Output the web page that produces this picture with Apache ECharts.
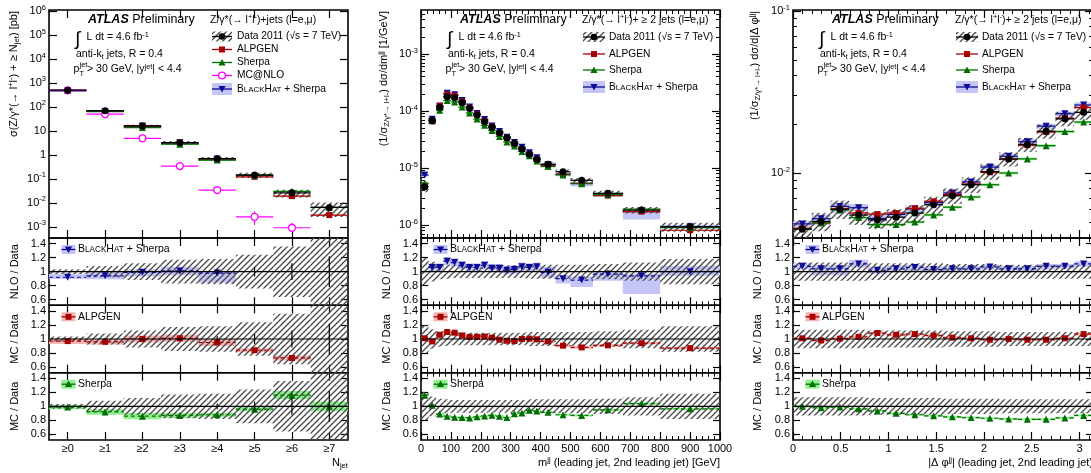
<!DOCTYPE html>
<html>
<head>
<meta charset="utf-8">
<title>Z+jets ATLAS</title>
<script src="https://cdn.jsdelivr.net/npm/echarts@6.0.0/dist/echarts.min.js"></script>
<style>
html, body { margin: 0; padding: 0; background: #fff; }
#chart { width: 1091px; height: 473px; }
</style>
</head>
<body>
<div id="chart"></div>
<script>
var FONT = '"Liberation Sans", Arial, sans-serif';

// ---- left: inclusive jet multiplicity ----
var njetEdges = [-0.5, 0.5, 1.5, 2.5, 3.5, 4.5, 5.5, 6.5, 7.5];
var njetTicks = [0, 1, 2, 3, 4, 5, 6, 7];
var njetLabels = ['≥0', '≥1', '≥2', '≥3', '≥4', '≥5', '≥6', '≥7'];
var njetData = [500, 69, 16, 3.2, 0.69, 0.144, 0.026, 0.0064];
var njetSyst = [0.035, 0.08, 0.12, 0.17, 0.18, 0.24, 0.36, 0.6];
var njetStat = [0.005, 0.01, 0.01, 0.02, 0.04, 0.07, 0.12, 0.22];
var njetAlpgen = [0.97, 0.96, 1.0, 1.01, 0.95, 0.84, 0.73, 0.48];
var njetAlpgenErr = [0.04, 0.04, 0.05, 0.05, 0.05, 0.03, 0.035, 0.03];
var njetSherpa = [0.99, 0.92, 0.86, 0.87, 0.88, 0.96, 1.16, 1.0];
var njetSherpaErr = [0.03, 0.04, 0.045, 0.035, 0.03, 0.03, 0.06, 0.07];
var njetBlackhat = [0.92, 0.94, 0.99, 1.01, 0.98];
var njetBlackhatLo = [0.895, 0.89, 0.93, 0.95, 0.84];
var njetBlackhatHi = [0.97, 1.0, 1.03, 1.07, 1.0];
var njetMcnlo = [490, 50, 4.9, 0.34, 0.034, 0.0026, 0.00091];
var njetMcnloLo = [480, 49, 4.8, 0.33, 0.031, 0.0012, 0.0006];
var njetMcnloHi = [500, 51, 5.0, 0.35, 0.037, 0.0044, 0.0014];

// ---- middle: dijet mass ----
var mjjEdges = [0, 25, 50, 75, 100, 125, 150, 175, 200, 225, 250, 275, 300, 325, 350, 375, 400, 450, 500, 575, 675, 800, 1000];
var mjjTicks = [0, 100, 200, 300, 400, 500, 600, 700, 800, 900, 1000];
var mjjData = [4.7e-6, 6.8e-5, 1.16e-4, 1.78e-4, 1.71e-4, 1.40e-4, 1.11e-4, 8.5e-5, 6.5e-5, 5.2e-5, 4.17e-5, 3.4e-5, 2.71e-5, 2.16e-5, 1.74e-5, 1.42e-5, 1.16e-5, 8.6e-6, 6.1e-6, 3.6e-6, 1.83e-6, 9.3e-7];
var mjjSyst = [0.2, 0.14, 0.11, 0.1, 0.09, 0.09, 0.09, 0.09, 0.09, 0.09, 0.09, 0.09, 0.09, 0.09, 0.1, 0.1, 0.1, 0.1, 0.1, 0.11, 0.13, 0.18];
var mjjAlpgen = [1.01, 0.965, 1.06, 1.10, 1.09, 1.05, 1.03, 1.03, 1.035, 1.02, 0.99, 0.975, 0.97, 1.0, 1.005, 0.995, 0.965, 0.905, 0.88, 0.91, 0.94, 0.87];
var mjjAlpgenErr = [0.02, 0.02, 0.02, 0.02, 0.02, 0.02, 0.02, 0.02, 0.02, 0.02, 0.02, 0.02, 0.02, 0.02, 0.02, 0.02, 0.02, 0.02, 0.02, 0.02, 0.02, 0.02];
var mjjSherpa = [1.16, 1.015, 0.89, 0.86, 0.845, 0.84, 0.835, 0.85, 0.862, 0.872, 0.86, 0.84, 0.895, 0.905, 0.943, 0.933, 0.915, 0.88, 0.87, 0.95, 1.04, 0.965];
var mjjSherpaErr = [0.015, 0.015, 0.015, 0.015, 0.015, 0.015, 0.015, 0.015, 0.015, 0.015, 0.015, 0.015, 0.015, 0.015, 0.015, 0.015, 0.015, 0.015, 0.015, 0.015, 0.015, 0.015];
var mjjBlackhat = [1.6, 1.06, 1.06, 1.15, 1.13, 1.09, 1.06, 1.06, 1.09, 1.05, 1.05, 1.02, 1.03, 1.07, 1.06, 1.07, 0.99, 0.90, 0.88, 0.965, 0.94, 1.0];
var mjjBlackhatLo = [1.5, 1.0, 1.0, 1.09, 1.07, 1.03, 1.0, 1.0, 1.03, 0.99, 0.99, 0.96, 0.97, 1.01, 1.0, 1.01, 0.91, 0.83, 0.78, 0.87, 0.68, 0.94];
var mjjBlackhatHi = [1.7, 1.12, 1.12, 1.21, 1.19, 1.15, 1.12, 1.12, 1.15, 1.11, 1.11, 1.08, 1.09, 1.13, 1.12, 1.13, 1.07, 0.95, 0.93, 0.99, 0.97, 1.08];

// ---- right: dijet azimuthal separation ----
var dphiEdges = [0, 0.196, 0.393, 0.589, 0.785, 0.982, 1.178, 1.374, 1.571, 1.767, 1.963, 2.160, 2.356, 2.553, 2.749, 2.945, 3.1416];
var dphiTicks = [0, 0.5, 1, 1.5, 2, 2.5, 3];
var dphiData = [4.51e-3, 5.02e-3, 5.98e-3, 5.50e-3, 5.14e-3, 5.34e-3, 5.66e-3, 6.37e-3, 7.24e-3, 8.47e-3, 1.02e-2, 1.22e-2, 1.50e-2, 1.81e-2, 2.16e-2, 2.37e-2];
var dphiSyst = [0.13, 0.13, 0.13, 0.13, 0.12, 0.12, 0.12, 0.12, 0.11, 0.11, 0.11, 0.1, 0.1, 0.1, 0.1, 0.1];
var dphiAlpgen = [1.01, 0.98, 1.005, 1.03, 1.085, 1.06, 1.07, 1.05, 1.02, 1.01, 0.99, 1.0, 0.99, 0.99, 1.01, 1.07];
var dphiAlpgenErr = [0.02, 0.02, 0.02, 0.02, 0.02, 0.02, 0.02, 0.02, 0.02, 0.02, 0.02, 0.02, 0.02, 0.02, 0.02, 0.02];
var dphiSherpa = [1.0, 0.98, 0.99, 0.965, 0.935, 0.90, 0.88, 0.865, 0.85, 0.84, 0.83, 0.82, 0.815, 0.815, 0.835, 0.87];
var dphiSherpaErr = [0.015, 0.015, 0.015, 0.015, 0.015, 0.015, 0.015, 0.015, 0.015, 0.015, 0.015, 0.015, 0.015, 0.015, 0.015, 0.015];
var dphiBlackhat = [1.076, 1.04, 1.04, 1.11, 1.02, 1.04, 1.06, 1.03, 1.04, 1.04, 1.067, 1.04, 1.04, 1.076, 1.076, 1.11];
var dphiBlackhatLo = [1.03, 0.95, 0.95, 1.06, 0.97, 0.99, 1.01, 0.99, 1.0, 1.0, 1.02, 1.0, 1.0, 1.03, 1.04, 1.07];
var dphiBlackhatHi = [1.12, 1.1, 1.1, 1.17, 1.07, 1.09, 1.1, 1.07, 1.08, 1.08, 1.1, 1.08, 1.08, 1.11, 1.11, 1.15];

var ratioTicks = [0.6, 0.8, 1, 1.2, 1.4];

var C_ALP = '#a80000', C_ALP_BAND = '#f6b6b6';
var C_SHE = '#006e00', C_SHE_BAND = '#8eef8e';
var C_BH = '#0a0a96', C_BH_BAND = '#c6c6f6';
var C_NLO = '#ff00ff';

// panel frames in pixels
var GRIDX = [[49, 348], [421, 720], [793, 1093]];
var GRIDY = [[10, 238], [238, 305.3], [305.3, 372.7], [372.7, 440]];

function makeHatch() {
  var c = document.createElement('canvas');
  c.width = 6; c.height = 6;
  var g = c.getContext('2d');
  g.strokeStyle = '#474747';
  g.lineWidth = 1.3;
  g.beginPath();
  g.moveTo(0, 6); g.lineTo(6, 0);
  g.moveTo(-1, 1); g.lineTo(1, -1);
  g.moveTo(5, 7); g.lineTo(7, 5);
  g.stroke();
  return c;
}
var hatch = {image: makeHatch(), repeat: 'repeat'};

function minorLog(lo, hi) {
  var out = [];
  for (var e = -8; e <= 6; e++) {
    for (var k = 2; k <= 9; k++) {
      var v = k * Math.pow(10, e);
      if (v > lo && v < hi) out.push(v);
    }
  }
  return out;
}

function powLabel(v) {
  var e = Math.round(Math.log(v) / Math.LN10);
  if (e === 0) return '1';
  if (e === 1) return '10';
  return '10{sup|' + e + '}';
}

var cols = [
  {
    edges: njetEdges, xmin: -0.5, xmax: 7.5, xInterval: null, xTicks: njetTicks, xMinor: false,
    xFmt: function (v) { return njetLabels[Math.round(v)]; },
    ymin: 3.4e-4, ymax: 1.1e6, yTicks: [1e-3, 1e-2, 0.1, 1, 10, 100, 1e3, 1e4, 1e5, 1e6], yMinor: null,
    data: njetData, syst: njetSyst, stat: njetStat,
    alp: njetAlpgen, alpErr: njetAlpgenErr, she: njetSherpa, sheErr: njetSherpaErr,
    bh: njetBlackhat, bhLo: njetBlackhatLo, bhHi: njetBlackhatHi,
    ytitle: 'σ(Z/γ*(→ l{sup|+}l{sup|-}) + ≥ N{sub|jet}) [pb]', ytitleX: 14,
    xtitle: 'N{sub|jet}',
    legTitle: 'Z/γ*(→ l{sup|+}l{sup|-})+jets (l=e,μ)',
    legRows: [36.5, 49.5, 62.5, 75.5, 89], legW: 20, ratioTitleX: 15
  },
  {
    edges: mjjEdges, xmin: 0, xmax: 1000, xInterval: 100, xTicks: mjjTicks, xMinor: true,
    xFmt: function (v) { return String(v); },
    ymin: 5.92e-7, ymax: 5.92e-3, yTicks: [1e-6, 1e-5, 1e-4, 1e-3], yMinor: minorLog(5.92e-7, 5.92e-3),
    data: mjjData, syst: mjjSyst, stat: null,
    alp: mjjAlpgen, alpErr: mjjAlpgenErr, she: mjjSherpa, sheErr: mjjSherpaErr,
    bh: mjjBlackhat, bhLo: mjjBlackhatLo, bhHi: mjjBlackhatHi,
    ytitle: '(1/σ{sub|Z/γ*→ l+l-}) dσ/dm{sup|jj} [1/GeV]', ytitleX: 384,
    xtitle: 'm{sup|jj} (leading jet, 2nd leading jet) [GeV]',
    legTitle: 'Z/γ*(→ l{sup|+}l{sup|-})+ ≥ 2 jets (l=e,μ)',
    legRows: [37, 54, 70, 87], legW: 22, ratioTitleX: 387
  },
  {
    edges: dphiEdges, xmin: 0, xmax: 3.1416, xInterval: 0.5, xTicks: dphiTicks, xMinor: true,
    xFmt: function (v) { return String(v); },
    ymin: 3.97e-3, ymax: 0.1015, yTicks: [1e-2, 1e-1], yMinor: minorLog(4.1e-3, 0.0999),
    data: dphiData, syst: dphiSyst, stat: null,
    alp: dphiAlpgen, alpErr: dphiAlpgenErr, she: dphiSherpa, sheErr: dphiSherpaErr,
    bh: dphiBlackhat, bhLo: dphiBlackhatLo, bhHi: dphiBlackhatHi,
    ytitle: '(1/σ{sub|Z/γ*→ l+l-}) dσ/d|Δ φ{sup|jj}|', ytitleX: 755,
    xtitle: '|Δ φ{sup|jj}| (leading jet, 2nd leading jet)',
    legTitle: 'Z/γ*(→ l{sup|+}l{sup|-})+ ≥ 2 jets (l=e,μ)',
    legRows: [37, 54, 70, 87], legW: 22, ratioTitleX: 758
  }
];

var grids = [], xAxes = [], yAxes = [], series = [], graphics = [], AX = [];
var tickStyle = {color: '#000', width: 1.2};
var noLine = {show: false, onZero: false};

function addGrid(c, r) {
  var col = cols[c];
  var gi = grids.length;
  var gx = GRIDX[c], gy = GRIDY[r];
  grids.push({left: gx[0], top: gy[0], width: gx[1] - gx[0], height: gy[1] - gy[0],
    show: true, borderColor: '#000', borderWidth: 1.6, containLabel: false, outerBoundsMode: 'none'});
  var xi = xAxes.length;
  ['bottom', 'top'].forEach(function (pos, k) {
    xAxes.push({
      type: 'value', gridIndex: gi, position: pos, min: col.xmin, max: col.xmax,
      interval: col.xInterval || undefined,
      axisLine: noLine, splitLine: {show: false},
      axisTick: {show: true, inside: true, length: 8, lineStyle: tickStyle, customValues: col.xTicks},
      minorTick: {show: col.xMinor, splitNumber: 5, length: 4, lineStyle: {color: '#000', width: 1}},
      axisLabel: {show: r === 3 && k === 0, customValues: col.xTicks, formatter: col.xFmt,
        margin: 3, fontSize: 11, color: '#000', fontFamily: FONT}
    });
  });
  var yi = yAxes.length;
  if (r === 0) {
    ['left', 'right'].forEach(function (pos, k) {
      yAxes.push({
        type: 'log', logBase: 10, gridIndex: gi, position: pos, min: col.ymin, max: col.ymax,
        axisLine: noLine, splitLine: {show: false}, minorTick: {show: false},
        axisTick: {show: true, inside: true, length: 8, lineStyle: tickStyle, customValues: col.yTicks},
        axisLabel: {show: k === 0, customValues: col.yTicks, formatter: powLabel, margin: 3,
          fontSize: 11, color: '#000', fontFamily: FONT,
          rich: {sup: {fontSize: 7.5, fontFamily: FONT, color: '#000', padding: [0, 0, 7, 0]}}}
      });
    });
    if (col.yMinor) {
      ['left', 'right'].forEach(function (pos) {
        yAxes.push({
          type: 'log', logBase: 10, gridIndex: gi, position: pos, min: col.ymin, max: col.ymax,
          axisLine: noLine, splitLine: {show: false}, minorTick: {show: false},
          axisTick: {show: true, inside: true, length: 4, lineStyle: {color: '#000', width: 1}, customValues: col.yMinor},
          axisLabel: {show: false}
        });
      });
    }
  } else {
    ['left', 'right'].forEach(function (pos, k) {
      yAxes.push({
        type: 'value', gridIndex: gi, position: pos, min: 0.52, max: 1.48,
        axisLine: noLine, splitLine: {show: false},
        axisTick: {show: true, inside: true, length: 7, lineStyle: tickStyle, customValues: ratioTicks},
        axisLabel: {show: k === 0, customValues: ratioTicks, margin: 3, fontSize: 11, color: '#000', fontFamily: FONT}
      });
    });
  }
  AX.push({x: xi, y: yi});
  return gi;
}

function rects(gi, items, fill, z) {
  series.push({
    type: 'custom', coordinateSystem: 'cartesian2d', xAxisIndex: AX[gi].x, yAxisIndex: AX[gi].y,
    data: items, encode: {x: [0, 1], y: [2, 3]}, z: z, clip: true, silent: true,
    renderItem: function (params, api) {
      var a = api.coord([api.value(0), api.value(3)]);
      var b = api.coord([api.value(1), api.value(2)]);
      return {type: 'rect', shape: {x: a[0], y: a[1], width: b[0] - a[0], height: b[1] - a[1]},
        style: {fill: fill}};
    }
  });
}

function hlines(gi, items, color, width, dash, z) {
  series.push({
    type: 'custom', coordinateSystem: 'cartesian2d', xAxisIndex: AX[gi].x, yAxisIndex: AX[gi].y,
    data: items, encode: {x: [0, 1], y: 2}, z: z, clip: true, silent: true,
    renderItem: function (params, api) {
      var a = api.coord([api.value(0), api.value(2)]);
      var b = api.coord([api.value(1), api.value(2)]);
      return {type: 'line', shape: {x1: a[0], y1: a[1], x2: b[0], y2: b[1]},
        style: {stroke: color, lineWidth: width, lineDash: dash || null}};
    }
  });
}

function vlines(gi, items, color, width, z) {
  series.push({
    type: 'custom', coordinateSystem: 'cartesian2d', xAxisIndex: AX[gi].x, yAxisIndex: AX[gi].y,
    data: items, encode: {x: 0, y: [1, 2]}, z: z, clip: true, silent: true,
    renderItem: function (params, api) {
      var a = api.coord([api.value(0), api.value(1)]);
      var b = api.coord([api.value(0), api.value(2)]);
      return {type: 'line', shape: {x1: a[0], y1: a[1], x2: b[0], y2: b[1]},
        style: {stroke: color, lineWidth: width}};
    }
  });
}

function markers(gi, pts, m, z) {
  series.push({
    type: 'scatter', xAxisIndex: AX[gi].x, yAxisIndex: AX[gi].y, data: pts,
    symbol: m.sym, symbolSize: m.size, symbolRotate: m.rot || 0, clip: true, silent: true, z: z,
    itemStyle: m.empty ? {color: '#fff', borderColor: m.color, borderWidth: 1.3, opacity: 1} : {color: m.color, opacity: 1}
  });
}

function rich(s) {
  return {
    sup: {fontSize: s * 0.7, fontFamily: FONT, fill: '#000', padding: [0, 0, Math.round(s * 0.55), 0]},
    sub: {fontSize: s * 0.7, fontFamily: FONT, fill: '#000', padding: [Math.round(s * 0.45), 0, 0, 0]},
    b: {fontSize: s, fontFamily: FONT, fill: '#000', fontWeight: 'bold', fontStyle: 'italic'},
    sc: {fontSize: s * 0.78, fontFamily: FONT, fill: '#000', padding: [1, 0, 0, 0]}
  };
}

function T(x, y, text, size, extra) {
  var el = {type: 'text', x: x, y: y, z: 100, silent: true,
    style: {text: text, fontSize: size, fontFamily: FONT, fill: '#000', align: 'left', verticalAlign: 'middle', rich: rich(size)}};
  if (extra) {
    for (var k in extra) {
      if (k === 'rotation') el.rotation = extra[k]; else el.style[k] = extra[k];
    }
  }
  graphics.push(el);
}

function G(el) { el.z = 100; el.silent = true; graphics.push(el); }

function legSym(cx, cy, w, h, m) {
  if (m.band) G({type: 'rect', shape: {x: cx - w / 2, y: cy - h / 2, width: w, height: h}, style: {fill: m.band}});
  G({type: 'line', shape: {x1: cx - w / 2, y1: cy, x2: cx + w / 2, y2: cy}, style: {stroke: m.color, lineWidth: 1.3}});
  var s = 3.6;
  if (m.key === 'data') G({type: 'circle', shape: {cx: cx, cy: cy, r: 3.3}, style: {fill: '#000'}});
  if (m.key === 'alp') G({type: 'rect', shape: {x: cx - 3, y: cy - 3, width: 6, height: 6}, style: {fill: m.color}});
  if (m.key === 'she') G({type: 'polygon', shape: {points: [[cx, cy - s], [cx + s, cy + s * 0.8], [cx - s, cy + s * 0.8]]}, style: {fill: m.color}});
  if (m.key === 'bh') G({type: 'polygon', shape: {points: [[cx, cy + s], [cx + s, cy - s * 0.8], [cx - s, cy - s * 0.8]]}, style: {fill: m.color}});
  if (m.key === 'nlo') G({type: 'circle', shape: {cx: cx, cy: cy, r: 3.4}, style: {fill: '#fff', stroke: m.color, lineWidth: 1.3}});
}

var BH = {key: 'bh', color: C_BH, band: C_BH_BAND, sym: 'triangle', rot: 180, size: 7, name: 'B{sc|LACK}H{sc|AT} + Sherpa'};
var ALP = {key: 'alp', color: C_ALP, band: C_ALP_BAND, sym: 'rect', rot: 0, size: 6, name: 'ALPGEN'};
var SHE = {key: 'she', color: C_SHE, band: C_SHE_BAND, sym: 'triangle', rot: 0, size: 7, name: 'Sherpa'};
var NLO = {key: 'nlo', color: C_NLO, band: null, sym: 'circle', rot: 0, size: 7, empty: true, name: 'MC@NLO'};
var DAT = {key: 'data', color: '#000', band: hatch, sym: 'circle', size: 7, name: 'Data 2011 (√s = 7 TeV)'};

cols.forEach(function (col, c) {
  var gm = addGrid(c, 0);
  var gr = [addGrid(c, 1), addGrid(c, 2), addGrid(c, 3)];
  var L = GRIDX[c][0], R = GRIDX[c][1];
  var n = col.data.length, ctr = [];
  for (var i = 0; i < n; i++) ctr.push((col.edges[i] + col.edges[i + 1]) / 2);

  var models = [
    {m: BH, r: col.bh, lo: col.bhLo, hi: col.bhHi},
    {m: ALP, r: col.alp, err: col.alpErr},
    {m: SHE, r: col.she, err: col.sheErr}
  ];

  // MC predictions: main panel and their ratio panel
  models.forEach(function (md, k) {
    var bM = [], lM = [], pM = [], bR = [], lR = [], pR = [];
    for (var i = 0; i < md.r.length; i++) {
      var lo = md.lo ? md.lo[i] : md.r[i] - md.err[i];
      var hi = md.hi ? md.hi[i] : md.r[i] + md.err[i];
      var d = col.data[i], e0 = col.edges[i], e1 = col.edges[i + 1];
      bM.push([e0, e1, d * lo, d * hi]);
      lM.push([e0, e1, d * md.r[i]]);
      pM.push([ctr[i], d * md.r[i]]);
      bR.push([e0, e1, lo, hi]);
      lR.push([e0, e1, md.r[i]]);
      pR.push([ctr[i], md.r[i]]);
    }
    rects(gm, bM, md.m.band, 1);
    hlines(gm, lM, md.m.color, 1.2, null, 3);
    markers(gm, pM, md.m, 4);
    var g = gr[k];
    rects(g, bR, md.m.band, 1);
    hlines(g, lR, md.m.color, 1.2, [4, 3], 3);
    markers(g, pR, md.m, 4);
  });

  // data
  var dBox = [], dLine = [], dPts = [], dErr = [], rBox = [], rErr = [];
  for (var j = 0; j < n; j++) {
    var d = col.data[j], s = col.syst[j], a = col.edges[j], b = col.edges[j + 1];
    dBox.push([a, b, d * (1 - s), d * (1 + s)]);
    dLine.push([a, b, d]);
    dPts.push([ctr[j], d]);
    rBox.push([a, b, 1 - s, 1 + s]);
    if (col.stat) {
      dErr.push([ctr[j], d * (1 - col.stat[j]), d * (1 + col.stat[j])]);
      rErr.push([ctr[j], 1 - col.stat[j], 1 + col.stat[j]]);
    }
  }
  rects(gm, dBox, hatch, 2);
  hlines(gm, dLine, '#000', 1.3, null, 5);
  if (dErr.length) vlines(gm, dErr, '#000', 1.2, 5);
  markers(gm, dPts, DAT, 6);
  gr.forEach(function (g) {
    rects(g, rBox, hatch, 2);
    hlines(g, [[col.xmin, col.xmax, 1]], '#000', 1.2, null, 5);
    if (rErr.length) vlines(g, rErr, '#000', 1.2, 5);
  });

  // MC@NLO only on the multiplicity plot
  if (c === 0) {
    var nl = [], np = [], ne = [];
    for (var q = 0; q < njetMcnlo.length; q++) {
      nl.push([njetEdges[q], njetEdges[q + 1], njetMcnlo[q]]);
      np.push([njetTicks[q], njetMcnlo[q]]);
      ne.push([njetTicks[q], njetMcnloLo[q], njetMcnloHi[q]]);
    }
    hlines(gm, nl, C_NLO, 1.2, null, 3);
    vlines(gm, ne, C_NLO, 1.2, 3);
    markers(gm, np, NLO, 4);
  }

  // texts: ATLAS block
  T(L + 39, 20, '{b|ATLAS} Preliminary', 12.5);
  T(L + 26, 40, '∫', 19);
  T(L + 37.5, 37.5, 'L dt = 4.6 fb{sup|-1}', 10.5);
  T(L + 27, 54, 'anti-k{sub|t} jets, R = 0.4', 10.5);
  T(L + 24.5, 69.5, 'p', 10.5);
  T(L + 30.5, 64.5, 'jet', 7.5);
  T(L + 30.5, 73.5, 'T', 7.5);
  T(L + 38, 69.5, '> 30 GeV, |y{sup|jet}| < 4.4', 10.5);

  // main legend
  T(R - 138, 20, col.legTitle, 10.5);
  var entries = c === 0 ? [DAT, ALP, SHE, NLO, BH] : [DAT, ALP, SHE, BH];
  entries.forEach(function (m, k) {
    var y = col.legRows[k];
    var w = col.legW;
    var mm = m;
    if (m.key === 'alp' || m.key === 'she') mm = {key: m.key, color: m.color, band: null};
    legSym(R - 126, y, w, m.key === 'bh' ? 12 : 10, mm);
    T(R - 111, y, m.name, 10.2);
  });

  // ratio legends + titles
  [BH, ALP, SHE].forEach(function (m, k) {
    var top = GRIDY[k + 1][0], bot = GRIDY[k + 1][1];
    legSym(L + 19.5, top + 11.5, 14, 9, m);
    T(L + 29, top + 11.5, m.name, 10.5);
    T(col.ratioTitleX, (top + bot) / 2, k === 0 ? 'NLO / Data' : 'MC / Data', 11,
      {rotation: Math.PI / 2, align: 'center'});
  });

  // axis titles
  T(col.ytitleX, 11, col.ytitle, 11, {rotation: Math.PI / 2, align: 'right'});
  T(R, 463, col.xtitle, 11, {align: 'right'});
});

var chart = echarts.init(document.getElementById('chart'), null, {renderer: 'canvas'});
chart.setOption({
  animation: false,
  backgroundColor: '#fff',
  grid: grids,
  xAxis: xAxes,
  yAxis: yAxes,
  series: series,
  graphic: graphics
});
</script>
</body>
</html>
